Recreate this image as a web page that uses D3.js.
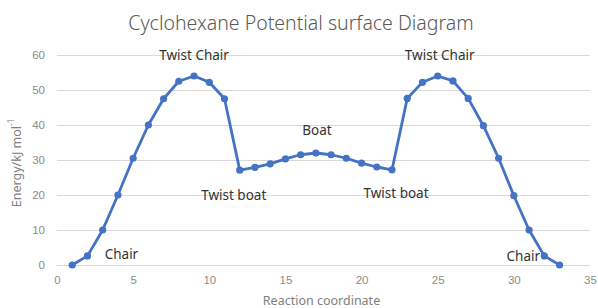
<!DOCTYPE html>
<html>
<head>
<meta charset="utf-8">
<script src="https://cdnjs.cloudflare.com/ajax/libs/d3/7.8.5/d3.min.js"></script>
<style type='text/css'>
body {
  margin: 0;
  background: #fff;
}
svg {
  display: block;
  font-family: "Noto Sans", "DejaVu Sans", sans-serif;
}
.grid line {
  stroke: #d9d9d9;
  stroke-width: 1;
  shape-rendering: crispEdges;
}
.tick text {
  fill: #8c8c8c;
  font-size: 11.5px;
}
path.energy {
  fill: none;
  stroke: #4472c4;
  stroke-width: 2.8;
  stroke-linejoin: round;
}
circle.pt {
  fill: #4472c4;
}
text.ptlabel {
  fill: #333;
  font-size: 13.5px;
}
text.title {
  fill: #595959;
  font-size: 19.5px;
  font-weight: 300;
}
text.axistitle {
  fill: #808080;
  font-size: 12.5px;
}
</style>
</head>
<body>
<div id="chart"></div>
<script type='text/javascript'>
// reaction coordinate and energy (kJ/mol)
var coord = [1, 2, 3, 4, 5, 6, 7, 8, 9, 10, 11, 12, 13, 14, 15, 16, 17,
             18, 19, 20, 21, 22, 23, 24, 25, 26, 27, 28, 29, 30, 31, 32, 33];
var energy = [0, 2.6, 10, 20, 30.5, 40, 47.5, 52.5, 54, 52.2, 47.5, 27.1, 27.9, 28.9, 30.3, 31.5, 32,
              31.5, 30.5, 29.1, 28, 27.2, 47.6, 52.2, 54, 52.6, 47.6, 39.8, 30.5, 19.8, 10, 2.6, 0];
var xTicks = [0, 5, 10, 15, 20, 25, 30, 35];
var yTicks = [0, 10, 20, 30, 40, 50, 60];
var labelText = ["Chair", "Twist Chair", "Twist boat", "Boat", "Twist boat", "Twist Chair", "Chair"];
var labelAt = [2, 9, 12, 17, 22, 25, 32];

var width = 598, height = 308;
var margin = {top: 55, right: 8, bottom: 43, left: 57};

var svg = d3.select("#chart").append("svg")
    .attr("width", width)
    .attr("height", height);

var x = d3.scaleLinear().domain([0, 35]).range([margin.left, width - margin.right]);
var y = d3.scaleLinear().domain([0, 60]).range([height - margin.bottom, margin.top]);

// gridlines
svg.append("g")
    .attr("class", "grid")
    .selectAll("line")
    .data(yTicks)
    .enter().append("line")
      .attr("x1", x(0))
      .attr("x2", x(35))
      .attr("y1", function(d) { return Math.round(y(d)) + 0.5; })
      .attr("y2", function(d) { return Math.round(y(d)) + 0.5; });

// axes (labels only)
var yAxis = svg.append("g")
    .attr("transform", "translate(" + (margin.left - 10) + ",0)")
    .call(d3.axisLeft(y).tickValues(yTicks).tickSize(0).tickPadding(2));
yAxis.select(".domain").remove();

var xAxis = svg.append("g")
    .attr("transform", "translate(0," + (y(0) + 8) + ")")
    .call(d3.axisBottom(x).tickValues(xTicks).tickSize(0).tickPadding(3));
xAxis.select(".domain").remove();

// series
var pts = coord.map(function(c, i) { return [c, energy[i]]; });
var line = d3.line()
    .x(function(d) { return x(d[0]); })
    .y(function(d) { return y(d[1]); });

svg.append("path")
    .datum(pts)
    .attr("class", "energy")
    .attr("d", line);

svg.selectAll("circle.pt")
    .data(pts)
    .enter().append("circle")
      .attr("class", "pt")
      .attr("cx", function(d) { return x(d[0]); })
      .attr("cy", function(d) { return y(d[1]); })
      .attr("r", 3.6);

// point labels: offset in px from the point they belong to
var labelOffset = [[34, -2], [0, -21], [-6, 25], [1, -23], [4, 23], [2, -21], [-21, 0]];
svg.selectAll("text.ptlabel")
    .data(labelText)
    .enter().append("text")
      .attr("class", "ptlabel")
      .attr("text-anchor", "middle")
      .attr("dominant-baseline", "central")
      .attr("x", function(d, i) { return x(labelAt[i]) + labelOffset[i][0]; })
      .attr("y", function(d, i) { return y(energy[coord.indexOf(labelAt[i])]) + labelOffset[i][1]; })
      .text(function(d) { return d; });

// titles
svg.append("text")
    .attr("class", "title")
    .attr("x", 301)
    .attr("y", 22)
    .attr("text-anchor", "middle")
    .attr("dominant-baseline", "central")
    .text("Cyclohexane Potential surface Diagram");

svg.append("text")
    .attr("class", "axistitle")
    .attr("x", (x(0) + x(35)) / 2 - 2)
    .attr("y", 300)
    .attr("text-anchor", "middle")
    .attr("dominant-baseline", "central")
    .text("Reaction coordinate");

svg.append("text")
    .attr("class", "axistitle")
    .attr("transform", "translate(16," + ((y(0) + y(60)) / 2 + 3) + ") rotate(-90)")
    .attr("text-anchor", "middle")
    .attr("dominant-baseline", "central")
    .html("Energy/kJ mol<tspan baseline-shift='super' font-size='8px'>-1</tspan>");
</script>
</body>
</html>
